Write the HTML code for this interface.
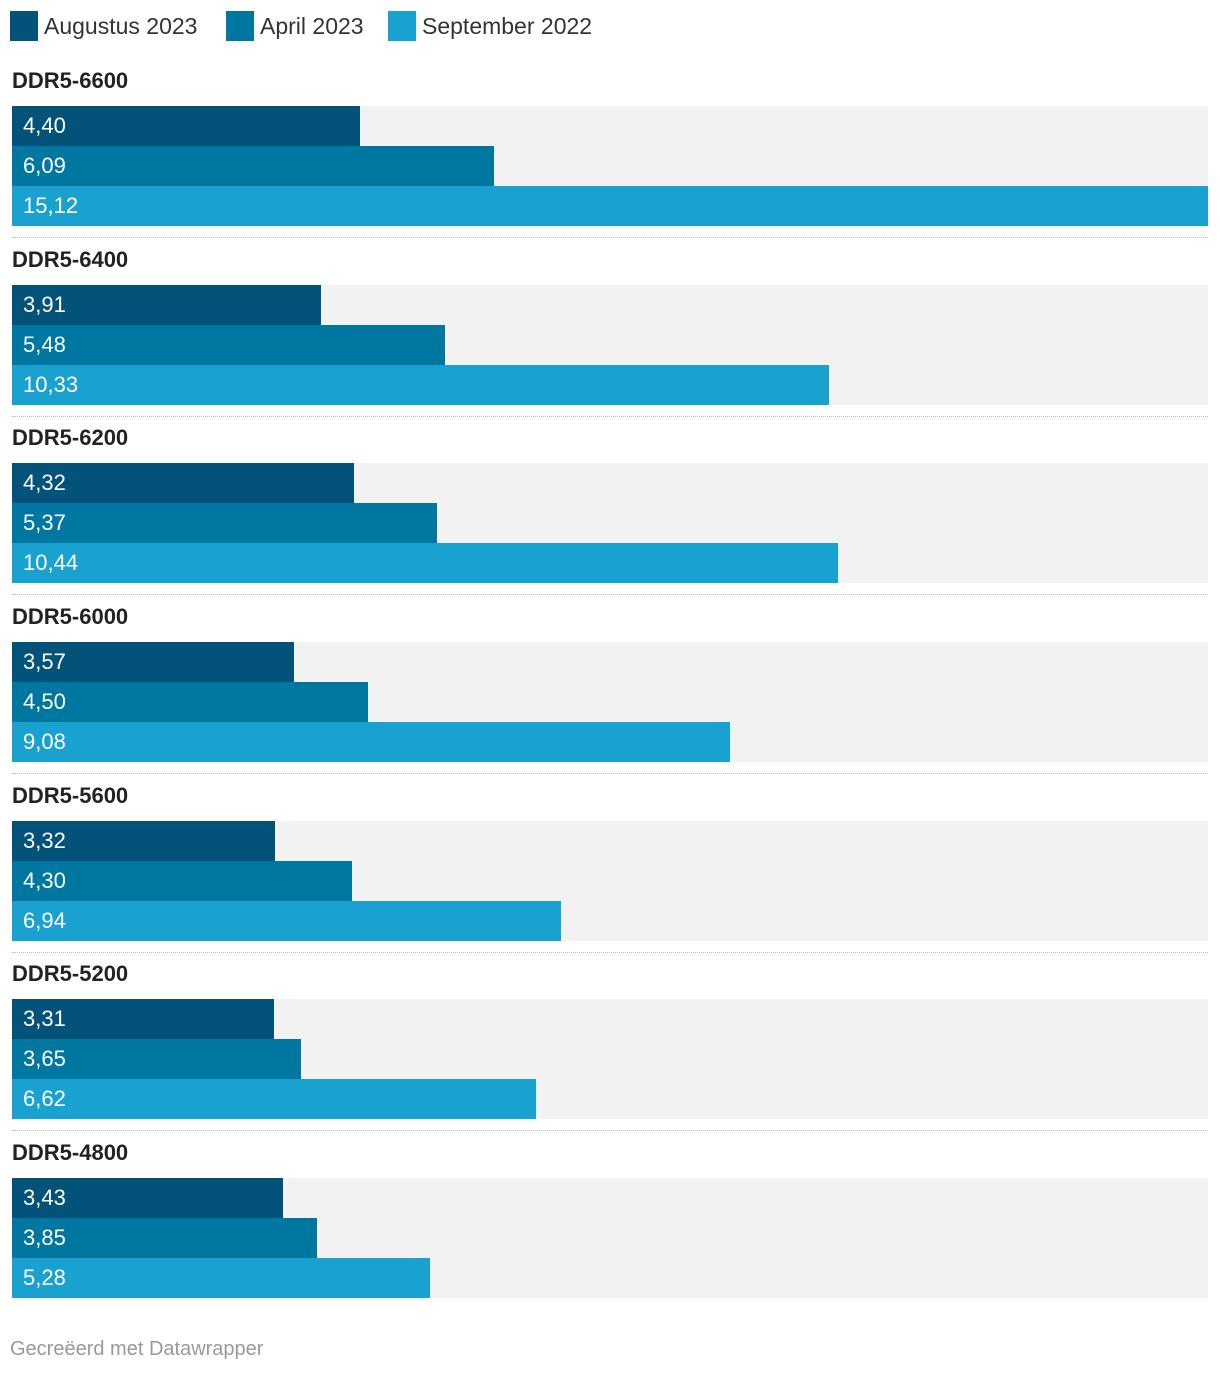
<!DOCTYPE html>
<html><head><meta charset="utf-8"><style>
body{margin:0;background:#fff;font-family:"Liberation Sans",sans-serif;}
#wrap{position:relative;width:1220px;height:1374px;overflow:hidden;}
.leg{position:absolute;top:10px;height:32px;display:flex;align-items:center;font-size:23px;color:#333;}
.sw{width:28px;height:30px;margin-right:6px;}
.lab{position:absolute;left:12px;font-size:22px;font-weight:bold;color:#222;}
.bg{position:absolute;left:12px;width:1196px;background:#f2f2f2;}
.bar{position:absolute;left:12px;height:40px;color:#fff;font-size:22px;line-height:40px;text-indent:11px;white-space:nowrap;}
.sep{position:absolute;left:12px;width:1196px;border-top:1px dotted #bbb;}
.foot{position:absolute;left:10px;top:1338px;font-size:20px;color:#999;}
</style></head><body>
<div id="wrap">
<div class="leg" style="left:10px"><div class="sw" style="background:#03527a"></div>Augustus 2023</div>
<div class="leg" style="left:226px"><div class="sw" style="background:#0077a1"></div>April 2023</div>
<div class="leg" style="left:388px"><div class="sw" style="background:#19a2cf"></div>September 2022</div>
<div class="foot">Gecreëerd met Datawrapper</div>
</div>
<script>
const categories=["DDR5-6600","DDR5-6400","DDR5-6200","DDR5-6000","DDR5-5600","DDR5-5200","DDR5-4800"];
const aug2023=[4.40,3.91,4.32,3.57,3.32,3.31,3.43];
const apr2023=[6.09,5.48,5.37,4.50,4.30,3.65,3.85];
const sep2022=[15.12,10.33,10.44,9.08,6.94,6.62,5.28];
const series=[aug2023,apr2023,sep2022];
const colors=["#03527a","#0077a1","#19a2cf"];
const names=["augustus-2023","april-2023","september-2022"];
const wrap=document.getElementById('wrap');
const maxV=Math.max(...sep2022,...apr2023,...aug2023);
const x=v=>v/maxV*1196;
categories.forEach((c,i)=>{
  const top=Math.round(106+i*178.67);
  const l=document.createElement('div');l.className='lab';l.style.top=(top-38)+'px';l.textContent=c;
  
  
  wrap.appendChild(l);
  const bg=document.createElement('div');bg.className='bg';bg.style.top=top+'px';bg.style.height='120px';
  
  
  wrap.appendChild(bg);
  series.forEach((s,j)=>{
    const b=document.createElement('div');b.className='bar';
    b.style.top=(top+j*40)+'px';b.style.width=x(s[i])+'px';b.style.background=colors[j];
    b.textContent=s[i].toFixed(2).replace('.',',');
    
    
    wrap.appendChild(b);
  });
  if(i<categories.length-1){
    const sp=document.createElement('div');sp.className='sep';sp.style.top=(top+131)+'px';
    
    
    wrap.appendChild(sp);
  }
});
</script>
</body></html>
